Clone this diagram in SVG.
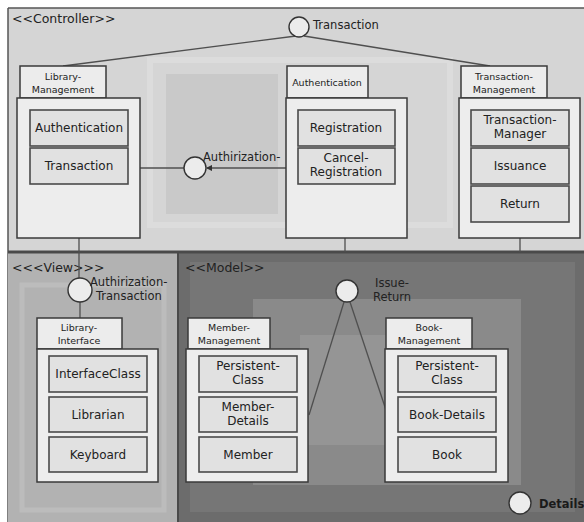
<svg xmlns="http://www.w3.org/2000/svg" width="584" height="522" viewBox="0 0 584 522">
<style>
text{font-family:"DejaVu Sans","Liberation Sans",sans-serif;fill:#222}
.pl{font-size:12.5px}
.lb{font-size:12px;text-anchor:middle}
.tb{font-size:9.5px;text-anchor:middle}
.il{font-size:11.5px}
.body{fill:#ededed;stroke:#3a3a3a;stroke-width:1.5}
.tab{fill:#ececec;stroke:#3a3a3a;stroke-width:1.5}
.box{fill:#e1e1e1;stroke:#4a4a4a;stroke-width:1.6}
.ifc{fill:#ececec;stroke:#333;stroke-width:1.4}
.cn{stroke:#4f4f4f;stroke-width:1.3;fill:none}
</style>
<defs>
<marker id="ah" viewBox="0 0 6 6" refX="5" refY="3" markerWidth="5" markerHeight="5" orient="auto">
<path d="M0,0 L6,3 L0,6 z" fill="#333"/>
</marker>
</defs>
<rect width="584" height="522" fill="#ffffff"/>
<!-- panels -->
<g id="controller-panel">
<rect x="8" y="8" width="576" height="244" fill="#d5d5d5"/>
<rect x="150" y="60" width="300" height="165" fill="none" stroke="#dcdcdc" stroke-width="6"/>
<rect x="166" y="74" width="112" height="140" fill="#c9c9c9"/>
<line x1="8" y1="8" x2="584" y2="8" stroke="#555" stroke-width="1.5"/>
<line x1="8" y1="8" x2="8" y2="522" stroke="#555" stroke-width="1.5"/>
<text class="pl" x="12" y="23">&lt;&lt;Controller&gt;&gt;</text>
</g>
<g id="view-panel">
<rect x="8" y="252" width="170" height="270" fill="#b2b2b2"/>
<rect x="22" y="285" width="142" height="225" fill="none" stroke="#bcbcbc" stroke-width="5"/>
<text class="pl" x="12" y="272">&lt;&lt;&lt;View&gt;&gt;&gt;</text>
</g>
<g id="model-panel">
<rect x="178" y="252" width="406" height="270" fill="#6c6c6c"/>
<rect x="190" y="262" width="385" height="250" fill="#767676"/>
<rect x="253" y="299" width="268" height="186" fill="#8a8a8a"/>
<rect x="300" y="335" width="90" height="110" fill="#959595"/>
<text class="pl" x="185" y="272">&lt;&lt;Model&gt;&gt;</text>
</g>
<line x1="8" y1="252" x2="584" y2="252" stroke="#4a4a4a" stroke-width="3"/>
<line x1="178" y1="252" x2="178" y2="522" stroke="#4a4a4a" stroke-width="2"/>

<!-- connectors -->
<g id="connectors">
<line class="cn" x1="296" y1="36" x2="63" y2="66"/>
<line class="cn" x1="304" y1="36" x2="490" y2="66"/>
<line class="cn" x1="140" y1="168" x2="184" y2="168"/>
<line class="cn" x1="286" y1="168" x2="207" y2="168" marker-end="url(#ah)"/>
<line class="cn" x1="79" y1="238" x2="79" y2="278"/>
<line class="cn" x1="80" y1="302" x2="80" y2="318"/>
<line class="cn" x1="345" y1="238" x2="345" y2="252"/>
<line class="cn" x1="520" y1="238" x2="520" y2="252"/>
<line class="cn" x1="344" y1="302" x2="309" y2="415"/>
<line class="cn" x1="350" y1="302" x2="386" y2="410"/>
</g>

<!-- interfaces -->
<g id="if-transaction">
<circle class="ifc" cx="299" cy="27" r="10"/>
<text class="il" x="313" y="29">Transaction</text>
</g>
<g id="if-authirization">
<circle class="ifc" cx="195" cy="168" r="11"/>
<text class="il" x="203" y="161">Authirization-</text>
</g>
<g id="if-authirization-transaction">
<circle class="ifc" cx="80" cy="290" r="12"/>
<text class="il" x="90" y="286">Authirization-</text>
<text class="il" x="96" y="300">Transaction</text>
</g>
<g id="if-issue-return">
<circle class="ifc" cx="347" cy="291" r="11"/>
<text class="il" x="375" y="287" fill="#1a1a1a">Issue-</text>
<text class="il" x="373" y="301" fill="#1a1a1a">Return</text>
</g>
<g id="if-details">
<circle class="ifc" cx="520" cy="503" r="11"/>
<text class="il" x="539" y="508" style="font-weight:bold;fill:#1a1a1a">Details</text>
</g>

<!-- Library-Management -->
<g id="library-management">
<rect class="tab" x="20" y="66" width="86" height="32"/>
<text class="tb" x="63" y="80">Library-</text>
<text class="tb" x="63" y="93">Management</text>
<rect class="body" x="17" y="98" width="123" height="140"/>
<rect class="box" x="30" y="110" width="98" height="36"/>
<text class="lb" x="79" y="132">Authentication</text>
<rect class="box" x="30" y="148" width="98" height="36"/>
<text class="lb" x="79" y="170">Transaction</text>
</g>
<!-- Authentication -->
<g id="authentication">
<rect class="tab" x="287" y="66" width="81" height="32"/>
<text class="tb" x="327" y="86">Authentication</text>
<rect class="body" x="286" y="98" width="121" height="140"/>
<rect class="box" x="298" y="110" width="97" height="36"/>
<text class="lb" x="346" y="132">Registration</text>
<rect class="box" x="298" y="148" width="97" height="36"/>
<text class="lb" x="346" y="162">Cancel-</text>
<text class="lb" x="346" y="176">Registration</text>
</g>
<!-- Transaction-Management -->
<g id="transaction-management">
<rect class="tab" x="461" y="66" width="86" height="32"/>
<text class="tb" x="504" y="80">Transaction-</text>
<text class="tb" x="504" y="93">Management</text>
<rect class="body" x="459" y="98" width="121" height="140"/>
<rect class="box" x="471" y="110" width="98" height="36"/>
<text class="lb" x="520" y="124">Transaction-</text>
<text class="lb" x="520" y="138">Manager</text>
<rect class="box" x="471" y="148" width="98" height="36"/>
<text class="lb" x="520" y="170">Issuance</text>
<rect class="box" x="471" y="186" width="98" height="36"/>
<text class="lb" x="520" y="208">Return</text>
</g>
<!-- Library-Interface -->
<g id="library-interface">
<rect class="tab" x="37" y="318" width="85" height="31"/>
<text class="tb" x="79" y="331">Library-</text>
<text class="tb" x="79" y="344">Interface</text>
<rect class="body" x="37" y="349" width="121" height="133"/>
<rect class="box" x="49" y="356" width="98" height="36"/>
<text class="lb" x="98" y="378">InterfaceClass</text>
<rect class="box" x="49" y="397" width="98" height="35"/>
<text class="lb" x="98" y="419">Librarian</text>
<rect class="box" x="49" y="437" width="98" height="35"/>
<text class="lb" x="98" y="459">Keyboard</text>
</g>
<!-- Member-Management -->
<g id="member-management">
<rect class="tab" x="188" y="318" width="82" height="31"/>
<text class="tb" x="229" y="331">Member-</text>
<text class="tb" x="229" y="344">Management</text>
<rect class="body" x="186" y="349" width="122" height="133"/>
<rect class="box" x="199" y="356" width="98" height="36"/>
<text class="lb" x="248" y="370">Persistent-</text>
<text class="lb" x="248" y="384">Class</text>
<rect class="box" x="199" y="397" width="98" height="35"/>
<text class="lb" x="248" y="411">Member-</text>
<text class="lb" x="248" y="425">Details</text>
<rect class="box" x="199" y="437" width="98" height="35"/>
<text class="lb" x="248" y="459">Member</text>
</g>
<!-- Book-Management -->
<g id="book-management">
<rect class="tab" x="386" y="318" width="86" height="31"/>
<text class="tb" x="429" y="331">Book-</text>
<text class="tb" x="429" y="344">Management</text>
<rect class="body" x="385" y="349" width="123" height="133"/>
<rect class="box" x="398" y="356" width="98" height="36"/>
<text class="lb" x="447" y="370">Persistent-</text>
<text class="lb" x="447" y="384">Class</text>
<rect class="box" x="398" y="397" width="98" height="35"/>
<text class="lb" x="447" y="419">Book-Details</text>
<rect class="box" x="398" y="437" width="98" height="35"/>
<text class="lb" x="447" y="459">Book</text>
</g>
</svg>
